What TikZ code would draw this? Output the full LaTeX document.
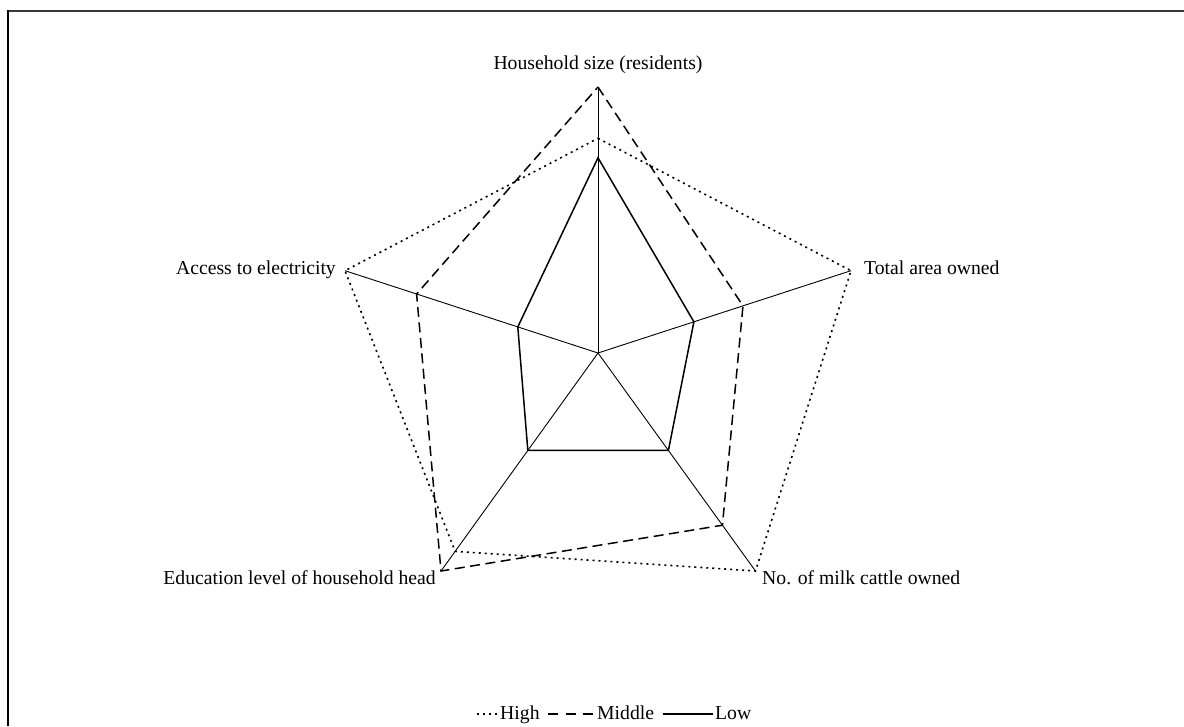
\documentclass[tikz,border=0pt]{standalone}
\usepackage{fontspec}
\setmainfont{Liberation Serif}
\usetikzlibrary{calc}
\begin{document}
\begin{tikzpicture}[x=1pt,y=-1pt,
  axisline/.style={line width=0.9pt},
  lowline/.style={line width=1.5pt, line join=miter},
  midline/.style={line width=1.5pt, dash pattern=on 10pt off 5.5pt},
  midkey/.style={line width=1.5pt, dash pattern=on 10pt off 7.5pt},
  highline/.style={line width=1.6pt, dash pattern=on 2pt off 4pt},
  lbl/.style={inner sep=0pt, font=\fontsize{19.7}{23}\selectfont}]
\useasboundingbox (0,0) rectangle (1184,726);
% frame
\draw[line width=2pt, black!78] (7,11) -- (1184,11);
\draw[line width=2pt] (8,10) -- (8,726);
% axes
\coordinate (C) at (598,353);
\coordinate (A1) at (598,87);
\coordinate (A2) at (851,270.7);
\coordinate (A3) at (755.5,571);
\coordinate (A4) at (441,571);
\coordinate (A5) at (345,270.7);
\foreach \i in {1,...,5} \draw[axisline] (C) -- (A\i);
% Low
\coordinate (L1) at ($(C)!0.734!(A1)$);
\coordinate (L2) at ($(C)!0.379!(A2)$);
\coordinate (L3) at ($(C)!0.447!(A3)$);
\coordinate (L4) at ($(C)!0.447!(A4)$);
\coordinate (L5) at ($(C)!0.317!(A5)$);
\draw[lowline] (L1) -- (L2) -- (L3) -- (L4) -- (L5) -- cycle;
% Middle
\coordinate (M1) at ($(C)!1!(A1)$);
\coordinate (M2) at ($(C)!0.573!(A2)$);
\coordinate (M3) at ($(C)!0.79!(A3)$);
\coordinate (M4) at ($(C)!1!(A4)$);
\coordinate (M5) at ($(C)!0.717!(A5)$);
\draw[midline] (M1) -- (M2) -- (M3) -- (M4) -- (M5) -- cycle;
% High
\coordinate (H1) at ($(C)!0.807!(A1)$);
\coordinate (H2) at ($(C)!1!(A2)$);
\coordinate (H3) at ($(C)!1!(A3)$);
\coordinate (H4) at ($(C)!0.91!(A4)$);
\coordinate (H5) at ($(C)!1!(A5)$);
\draw[highline] (H1) -- (H2) -- (H3) -- (H4) -- (H5) -- cycle;
% labels
\node[lbl, anchor=base] (t1) at (598,69) {Household size (residents)};
\node[lbl, anchor=base west] (t2) at (864,274) {Total area owned};
\node[lbl, anchor=base west] (t3) at (762,584) {No. of milk cattle owned};
\node[lbl, anchor=base east] (t4) at (436,584) {Education level of household head};
\node[lbl, anchor=base east] (t5) at (336,274) {Access to electricity};
% legend
\coordinate (h0) at (477,714);
\coordinate (h1) at (498,714);
\coordinate (m0) at (548,714);
\coordinate (m1) at (593,714);
\coordinate (l0) at (663,714);
\coordinate (l1) at (713,714);
\draw[highline] (h0) -- (h1);
\draw[midkey] (m0) -- (m1);
\draw[lowline] (l0) -- (l1);
\node[lbl, anchor=base west] (g1) at (500,719) {High};
\node[lbl, anchor=base west] (g2) at (597,719) {Middle};
\node[lbl, anchor=base west] (g3) at (715,719) {Low};
\end{tikzpicture}
\end{document}
